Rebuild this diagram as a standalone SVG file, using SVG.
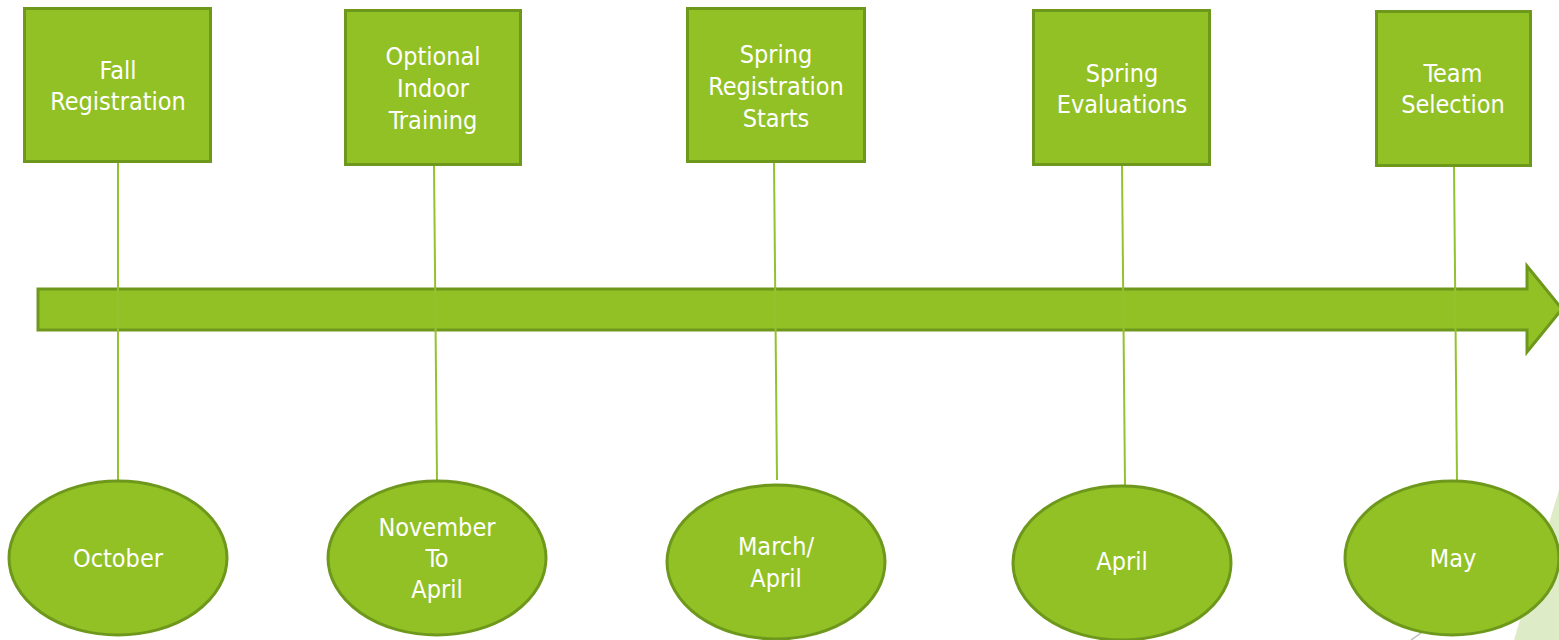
<svg xmlns="http://www.w3.org/2000/svg" width="1559" height="640" viewBox="0 0 1559 640">
<style>
.box{fill:#92C126;stroke:#6E981C;stroke-width:3}
.ell{fill:#92C126;stroke:#6E981C;stroke-width:3}
.con{stroke:#94C12F;stroke-width:2;fill:none}
.t{font-family:"DejaVu Sans Condensed","DejaVu Sans",sans-serif;font-stretch:condensed;font-size:25px;fill:#FFFFFF;text-anchor:middle}
</style>
<rect width="1559" height="640" fill="#FFFFFF"/>
<g id="decor">
<polygon points="1559,490 1514,640 1559,640" fill="#DDEBC6"/>
<line x1="1411" y1="640" x2="1421" y2="633" stroke="#BBBBBB" stroke-width="1.5"/>
</g>
<g id="timeline">
<polygon points="38,289 1527,289 1527,266 1562,309 1527,352 1527,330 38,330" fill="#92C126" stroke="#6E981C" stroke-width="3"/>
</g>
<g id="connectors">
<line class="con" x1="118" y1="162" x2="118" y2="482"/>
<line class="con" x1="434" y1="165" x2="437" y2="480"/>
<line class="con" x1="774" y1="162" x2="777" y2="480"/>
<line class="con" x1="1122" y1="165" x2="1125" y2="486"/>
<line class="con" x1="1454" y1="166" x2="1457" y2="481"/>
</g>
<g id="box-fall">
<rect class="box" x="24.5" y="8.5" width="186" height="153"/>
<text class="t" x="118" y="79">Fall</text>
<text class="t" x="118" y="110">Registration</text>
</g>
<g id="box-indoor">
<rect class="box" x="345.5" y="10.5" width="175" height="154"/>
<text class="t" x="433" y="65">Optional</text>
<text class="t" x="433" y="97">Indoor</text>
<text class="t" x="433" y="129">Training</text>
</g>
<g id="box-spring-reg">
<rect class="box" x="687.5" y="8.5" width="177" height="153"/>
<text class="t" x="776" y="63">Spring</text>
<text class="t" x="776" y="95">Registration</text>
<text class="t" x="776" y="127">Starts</text>
</g>
<g id="box-spring-eval">
<rect class="box" x="1033.5" y="10.5" width="176" height="154"/>
<text class="t" x="1122" y="82">Spring</text>
<text class="t" x="1122" y="113">Evaluations</text>
</g>
<g id="box-team">
<rect class="box" x="1376.5" y="11.5" width="154" height="154"/>
<text class="t" x="1453" y="82">Team</text>
<text class="t" x="1453" y="113">Selection</text>
</g>
<g id="ell-october">
<ellipse class="ell" cx="118" cy="558" rx="109" ry="77"/>
<text class="t" x="118" y="567">October</text>
</g>
<g id="ell-nov">
<ellipse class="ell" cx="437" cy="558" rx="109" ry="77"/>
<text class="t" x="437" y="536">November</text>
<text class="t" x="437" y="567">To</text>
<text class="t" x="437" y="598">April</text>
</g>
<g id="ell-march">
<ellipse class="ell" cx="776" cy="562" rx="109" ry="77"/>
<text class="t" x="776" y="555">March/</text>
<text class="t" x="776" y="587">April</text>
</g>
<g id="ell-april">
<ellipse class="ell" cx="1122" cy="563" rx="109" ry="77"/>
<text class="t" x="1122" y="570">April</text>
</g>
<g id="ell-may">
<ellipse class="ell" cx="1452" cy="558" rx="107" ry="77"/>
<text class="t" x="1453" y="567">May</text>
</g>
</svg>
